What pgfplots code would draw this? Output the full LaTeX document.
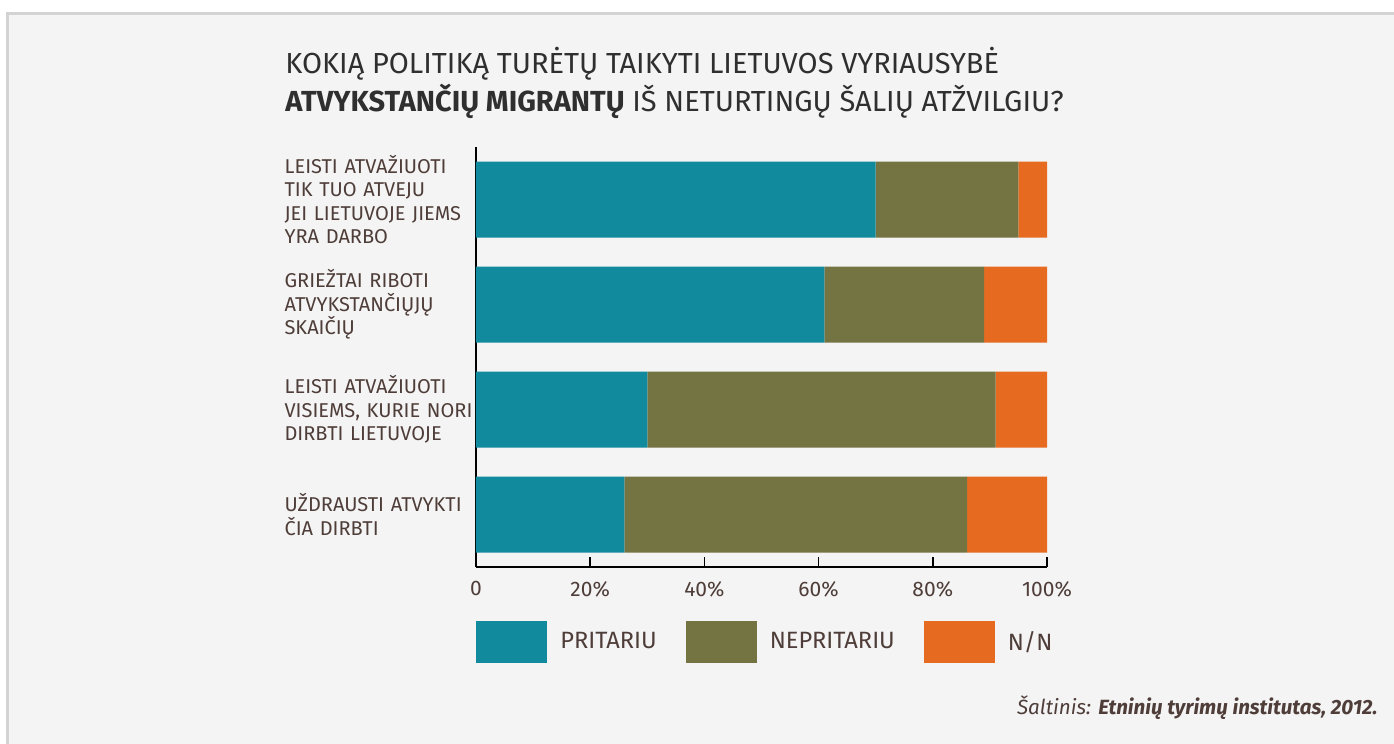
\documentclass[border=0pt]{standalone}
\usepackage{fontspec}
\setmainfont{Fira Sans}
\usepackage{pgfplots}
\pgfplotsset{compat=1.18}
\definecolor{pri}{HTML}{118A9E}
\definecolor{nep}{HTML}{747342}
\definecolor{nn}{HTML}{E66B21}
\definecolor{txt}{HTML}{4E3D38}
\definecolor{ttl}{HTML}{2F2F2F}
\definecolor{bg}{HTML}{F4F4F4}
\definecolor{frm}{HTML}{D3D3D3}

\begin{document}
\begin{tikzpicture}
\useasboundingbox (0,0) rectangle (697pt,-372pt);
\fill[white] (0,0) rectangle (697pt,-372pt);
\fill[bg] (3.5pt,-6.5pt) rectangle (697pt,-372pt);
\draw[frm,line width=1.5pt] (3.5pt,-372pt) -- (3.5pt,-6.5pt) -- (697pt,-6.5pt);

% title
\node[anchor=base west,inner sep=0pt,font=\fontsize{14.5}{16}\selectfont,text=ttl]
  at (142.5pt,-36.5pt) {KOKIĄ POLITIKĄ TURĖTŲ TAIKYTI LIETUVOS VYRIAUSYBĖ};
\node[anchor=base west,inner sep=0pt,font=\fontsize{14.5}{16}\selectfont,text=ttl]
  at (142.5pt,-56pt) {\textbf{ATVYKSTANČIŲ MIGRANTŲ} IŠ NETURTINGŲ ŠALIŲ ATŽVILGIU?};

\begin{axis}[
  at={(238pt,-283.5pt)}, anchor=south west,
  scale only axis, width=285.5pt, height=210pt,
  xbar stacked, bar width=38pt,
  xmin=0, xmax=100, ymin=-0.5, ymax=3.5, y dir=reverse,
  axis x line*=bottom, axis y line*=left,
  axis line style={black,line width=0.75pt},
  xtick={0,20,40,60,80,100},
  xticklabels={0,20\%,40\%,60\%,80\%,100\%},
  tick align=inside,
  x tick style={black,line width=0.75pt},
  major tick length=5pt,
  xticklabel style={font=\fontsize{10.5}{12}\selectfont,text=txt,inner sep=0pt,yshift=-7pt},
  ytick={0,1,2,3},
  y tick style={draw=none},
  yticklabels={
    {LEISTI ATVAŽIUOTI\\TIK TUO ATVEJU\\JEI LIETUVOJE JIEMS\\YRA DARBO},
    {GRIEŽTAI RIBOTI\\ATVYKSTANČIŲJŲ\\SKAIČIŲ},
    {LEISTI ATVAŽIUOTI\\VISIEMS, KURIE NORI\\DIRBTI LIETUVOJE},
    {UŽDRAUSTI ATVYKTI\\ČIA DIRBTI}},
  yticklabel style={font=\fontsize{10}{11.75}\selectfont,text=txt,inner sep=0pt,
    text width=95.5pt,align=left,anchor=east},
  legend columns=3,
  legend style={at={(0,-0.128)},anchor=north west,draw=none,fill=none,inner sep=0pt,
    font=\fontsize{11.8}{14}\selectfont,text=txt,
    nodes={inner sep=0pt},
    /tikz/every odd column/.append style={column sep=6.5pt},
    /tikz/every even column/.append style={column sep=14.5pt}},
  legend image code/.code={\fill[#1] (0pt,-10.5pt) rectangle (35.5pt,10.5pt);},
]
\addplot[fill=pri,draw=none] coordinates {(70,0) (61,1) (30,2) (26,3)};
\addplot[fill=nep,draw=none] coordinates {(25,0) (28,1) (61,2) (60,3)};
\addplot[fill=nn,draw=none] coordinates {(5,0) (11,1) (9,2) (14,3)};
\legend{PRITARIU,NEPRITARIU,N/N}
\end{axis}

\node[anchor=base east,inner sep=0pt,font=\fontsize{10.3}{12}\selectfont,text=txt]
  at (689pt,-357pt) {\textit{Šaltinis:} \textbf{\textit{Etninių tyrimų institutas, 2012.}}};
\end{tikzpicture}
\end{document}
